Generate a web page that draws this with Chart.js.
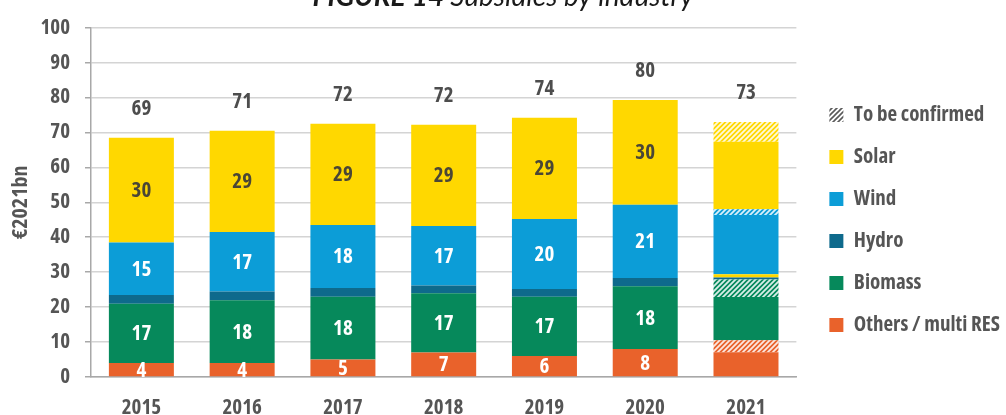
<!DOCTYPE html>
<html><head><meta charset="utf-8">
<script src="https://cdn.jsdelivr.net/npm/chart.js@4.4.0/dist/chart.umd.min.js"></script>
<style>html,body{margin:0;padding:0;background:#fff}#wrap{position:relative;width:1006px;height:415px}</style>
</head><body><div id="wrap"><canvas id="c"></canvas></div>
<script>
// ---- data ----
const categories = ['2015','2016','2017','2018','2019','2020','2021'];
const others     = [4, 4, 5, 7, 6, 8, 7.1];
const othersTBC  = [null, null, null, null, null, null, 3.4];
const biomass    = [17, 18, 18, 17, 17, 18, 12.4];
const biomassTBC = [null, null, null, null, null, null, 5.0];
const hydro      = [2.5, 2.5, 2.5, 2.2, 2.2, 2.3, 0.6];
const solarMinor = [null, null, null, null, null, null, 0.9];
const wind       = [15, 17, 18, 17, 20, 21, 17.0];
const windTBC    = [null, null, null, null, null, null, 1.6];
const solar      = [30, 29, 29, 29, 29, 30, 19.3];
const solarTBC   = [null, null, null, null, null, null, 5.7];
const totals     = [69, 71, 72, 72, 74, 80, 73];
const labelledYears = ['2015','2016','2017','2018','2019','2020'];
const yMin = 0, yMax = 100, yStep = 10;
const titleBold = 'FIGURE 14 ';
const titleRest = 'Subsidies by industry';
const yAxisTitle = '€2021bn';
const legendNames = ['To be confirmed','Solar','Wind','Hydro','Biomass','Others / multi RES'];

// ---- style ----
const C = {others:'#e9622b', biomass:'#06895b', hydro:'#0e6a8c', wind:'#0c9dd7', solar:'#ffd800'};
const FONT = "'Open Sans', 'DejaVu Sans', sans-serif";
const WEIGHT = 'bold condensed';
const TXT = '#555555';

function hatch(base, stripe, lw) {
  const s = 5, cv = document.createElement('canvas');
  cv.width = s; cv.height = s;
  const g = cv.getContext('2d');
  g.fillStyle = base; g.fillRect(0,0,s,s);
  g.strokeStyle = stripe; g.lineWidth = lw;
  g.beginPath();
  g.moveTo(-1, s+1); g.lineTo(s+1, -1);
  g.moveTo(-1, 1); g.lineTo(1, -1);
  g.moveTo(s-1, s+1); g.lineTo(s+1, s-1);
  g.stroke();
  return g.createPattern(cv, 'repeat');
}
const P = {
  others: hatch(C.others, 'rgba(255,255,255,0.85)', 1.8),
  biomass: hatch(C.biomass, 'rgba(255,255,255,0.85)', 1.8),
  wind: hatch(C.wind, 'rgba(255,255,255,0.85)', 1.8),
  solar: hatch(C.solar, 'rgba(255,255,255,0.85)', 1.8),
  legend: hatch('#ffffff', '#5a5a5a', 1.6)
};

const ds = (label, data, color, extra) => Object.assign({label, data, backgroundColor: color, borderWidth: 0, stack: 's'}, extra||{});
const datasets = [
  ds('Others / multi RES', others, C.others, {valueColor:'#ffffff', showValues:true}),
  ds('Others TBC', othersTBC, P.others),
  ds('Biomass', biomass, C.biomass, {valueColor:'#ffffff', showValues:true}),
  ds('Biomass TBC', biomassTBC, P.biomass),
  ds('Hydro', hydro, C.hydro),
  ds('Solar minor', solarMinor, C.solar),
  ds('Wind', wind, C.wind, {valueColor:'#ffffff', showValues:true}),
  ds('Wind TBC', windTBC, P.wind),
  ds('Solar', solar, C.solar, {valueColor:'#4a4636', showValues:true}),
  ds('Solar TBC', solarTBC, P.solar)
];

const titlePlugin = {
  id: 'figTitle',
  beforeDraw(chart) {
    const ctx = chart.ctx; ctx.save();
    ctx.fillStyle = '#1a1a1a'; ctx.textBaseline = 'alphabetic';
    const fb = "italic bold 28px Lato, 'Liberation Sans', sans-serif";
    const fr = "italic 28px Lato, 'Liberation Sans', sans-serif";
    ctx.font = fb; const w1 = ctx.measureText(titleBold).width;
    ctx.font = fr; const w2 = ctx.measureText(titleRest).width;
    let x = chart.width / 2 - (w1 + w2) / 2;
    ctx.font = fb; ctx.fillText(titleBold, x, 6);
    ctx.font = fr; ctx.fillText(titleRest, x + w1, 6);
    ctx.restore();
  }
};

const valuesPlugin = {
  id: 'values',
  afterDatasetsDraw(chart) {
    const ctx = chart.ctx; ctx.save();
    ctx.textAlign = 'center'; ctx.textBaseline = 'middle';
    ctx.font = 'normal ' + WEIGHT + ' 21px ' + FONT;
    ctx.beginPath();
    ctx.rect(chart.chartArea.left, chart.chartArea.top - 60, chart.chartArea.width, chart.chartArea.height + 60);
    ctx.clip();
    chart.data.datasets.forEach((d, di) => {
      if (!d.showValues) return;
      const meta = chart.getDatasetMeta(di);
      meta.data.forEach((el, i) => {
        if (!labelledYears.includes(categories[i]) || d.data[i] == null) return;
        ctx.fillStyle = d.valueColor;
        ctx.fillText(String(d.data[i]), el.x, (el.y + el.base) / 2 + 1);
      });
    });
    ctx.fillStyle = '#4d4d4d';
    categories.forEach((c, i) => {
      let top = null, x = null;
      chart.data.datasets.forEach((d, di) => {
        if (d.data[i] == null) return;
        const el = chart.getDatasetMeta(di).data[i];
        if (top === null || el.y < top) { top = el.y; x = el.x; }
      });
      ctx.fillText(String(totals[i]), x, top - 29);
    });
    ctx.restore();
  }
};

const legendShift = {
  id: 'legendShift',
  afterLayout(chart) {
    const lg = chart.legend; if (!lg) return;
    const dx = chart.chartArea.right + 12 - lg.left;
    lg.left += dx; lg.right += dx;
  }
};

new Chart(document.getElementById('c'), {
  type: 'bar',
  data: { labels: categories, datasets },
  plugins: [titlePlugin, valuesPlugin, legendShift],
  options: {
    responsive: true, maintainAspectRatio: false, animation: false,
    layout: { padding: { top: 25, right: 8, bottom: 0, left: 0 } },
    datasets: { bar: { barPercentage: 0.645, categoryPercentage: 1 } },
    plugins: {
      tooltip: { enabled: false },
      title: { display: false },
      legend: {
        position: 'right', align: 'center',
        labels: {
          boxWidth: 14, boxHeight: 14, padding: 21, color: TXT,
          font: { family: FONT, size: 21, weight: WEIGHT },
          generateLabels() {
            const fills = [P.legend, C.solar, C.wind, C.hydro, C.biomass, C.others];
            return legendNames.map((t, i) => ({ text: t, fillStyle: fills[i], strokeStyle: 'rgba(0,0,0,0)', lineWidth: 0, hidden: false, fontColor: TXT }));
          }
        },
        onClick() {}
      }
    },
    scales: {
      x: {
        stacked: true,
        grid: { display: false, drawTicks: false },
        border: { display: true, color: '#a8a8a8', width: 1.5 },
        ticks: { color: TXT, padding: 18, font: { family: FONT, size: 21, weight: WEIGHT } },
        afterFit(s) { s.height = 38; }
      },
      y: {
        stacked: true, min: yMin, max: yMax,
        grid: { color: '#d4d4d4', lineWidth: 1.5, drawTicks: true, tickLength: 6, tickColor: '#a8a8a8' },
        border: { display: true, color: '#a8a8a8', width: 1.5 },
        ticks: { stepSize: yStep, color: TXT, padding: 15, font: { family: FONT, size: 21, weight: WEIGHT } },
        title: { display: true, text: yAxisTitle, color: TXT, padding: { top: 8, bottom: 0 }, font: { family: FONT, size: 22, weight: WEIGHT } },
        afterFit(s) { s.width = 91; }
      }
    }
  }
});
</script></body></html>
